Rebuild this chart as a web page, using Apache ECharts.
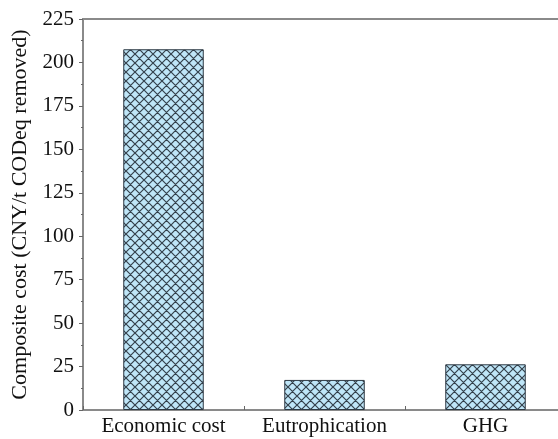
<!DOCTYPE html>
<html>
<head>
<meta charset="utf-8">
<script src="https://cdn.jsdelivr.net/npm/echarts@6/dist/echarts.min.js"></script>
<style>
  html, body { margin: 0; padding: 0; background: #fff; overflow: hidden; }
  #chart { width: 574px; height: 439px; }
</style>
</head>
<body>
<div id="chart"></div>
<script>
// Composite cost by category
const categories = ['Economic cost', 'Eutrophication', 'GHG'];
const costValues = [207.6, 17.3, 26.3];
const yTicks = { min: 0, max: 225, interval: 25 };

// Cross-hatched fill: light blue with dark diagonal grid lines
function hatchPattern() {
  const s = 9;
  const c = document.createElement('canvas');
  c.width = s; c.height = s;
  const g = c.getContext('2d');
  g.fillStyle = '#bfe6f8';
  g.fillRect(0, 0, s, s);
  g.strokeStyle = '#34414c';
  g.lineWidth = 1.2;
  g.beginPath();
  g.moveTo(0, 0); g.lineTo(s, s);
  g.moveTo(0, s); g.lineTo(s, 0);
  g.moveTo(-1, 1); g.lineTo(1, -1);
  g.moveTo(s - 1, s + 1); g.lineTo(s + 1, s - 1);
  g.stroke();
  return c;
}

const font = '"Liberation Serif", "Times New Roman", serif';
// The plot frame runs a little past the right edge of the visible page
const chart = echarts.init(document.getElementById('chart'), null, { renderer: 'canvas' });
chart.setOption({
  backgroundColor: '#ffffff',
  animation: false,
  grid: {
    left: 83, top: 19, bottom: 29, right: 8,
    show: true, borderColor: '#8a8a8a', borderWidth: 2, backgroundColor: 'transparent'
  },
  xAxis: [
    {
      type: 'category',
      data: categories,
      position: 'bottom',
      axisLine: { show: true, lineStyle: { color: '#8a8a8a', width: 2 } },
      axisTick: { show: true, alignWithLabel: true, inside: true, length: 4, lineStyle: { color: '#666' } },
      axisLabel: { color: '#111', fontFamily: font, fontSize: 21, margin: 6, interval: 0, hideOverlap: false }
    },
    {
      type: 'category',
      data: categories,
      position: 'bottom',
      axisLine: { show: false },
      axisTick: { show: true, alignWithLabel: false, inside: true, length: 4, lineStyle: { color: '#666' } },
      axisLabel: { show: false }
    }
  ],
  yAxis: {
    type: 'value',
    min: yTicks.min, max: yTicks.max, interval: yTicks.interval,
    name: 'Composite cost (CNY/t CODeq removed)',
    nameLocation: 'middle',
    nameGap: 45,
    nameTextStyle: { color: '#111', fontFamily: font, fontSize: 22 },
    axisLine: { show: true, lineStyle: { color: '#8a8a8a', width: 2 } },
    axisTick: { show: true, inside: false, length: 4, lineStyle: { color: '#666' } },
    minorTick: { show: true, splitNumber: 2, length: 2, lineStyle: { color: '#666' } },
    splitLine: { show: false },
    axisLabel: { color: '#111', fontFamily: font, fontSize: 21, margin: 9 }
  },
  series: [{
    type: 'bar',
    xAxisIndex: 0,
    data: costValues,
    barWidth: '50%',
    itemStyle: {
      color: { image: hatchPattern(), repeat: 'repeat' },
      borderColor: '#2f3a44',
      borderWidth: 1
    }
  }]
});
</script>
</body>
</html>
